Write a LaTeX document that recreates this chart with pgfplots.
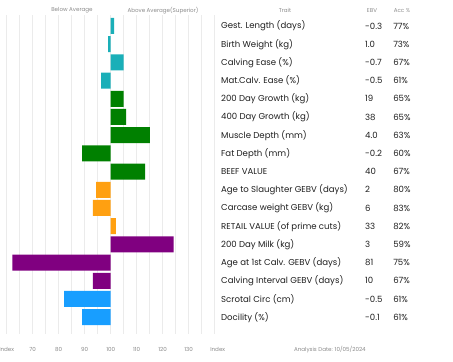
\documentclass[border=0pt]{standalone}
\usepackage{fontspec}
\setmainfont{Poppins}
\usepackage{pgfplots}
\pgfplotsset{compat=1.18}
\definecolor{cteal}{HTML}{1AAFB8}
\definecolor{cgreen}{HTML}{008000}
\definecolor{corange}{HTML}{FFA011}
\definecolor{cpurple}{HTML}{800080}
\definecolor{cblue}{HTML}{189EFF}
\definecolor{gridc}{HTML}{EBEBEB}
\definecolor{tickc}{HTML}{8A8A8A}
\definecolor{txtc}{HTML}{1E1E1E}
\newcommand{\tfont}{\fontsize{8.6}{9}\selectfont}
\newcommand{\sfont}{\fontsize{5.6}{6}\selectfont}
\begin{document}
\begin{tikzpicture}
\begin{axis}[
  scale only axis, width=208bp, height=318.9bp,
  xmin=60, xmax=140, ymin=0.396, ymax=17.92, y dir=reverse,
  x coord trafo/.code={\pgfmathparse{#1-100}},
  x coord inv trafo/.code={\pgfmathparse{#1+100}},
  xbar, bar width=16bp, bar shift=0pt,
  xtick={60,70,80,90,100,110,120,130,140},
  xticklabels={Index,70,80,90,100,110,120,130,\hspace*{6bp}Index},
  minor xtick={65,75,85,95,105,115,125,135},
  xmajorgrids, xminorgrids,
  major grid style={draw=gridc, line width=0.7bp},
  minor grid style={draw=gridc, line width=0.7bp},
  ytick=\empty,
  axis line style={draw=none}, tick style={draw=none},
  xticklabel style={font=\sfont, text=tickc, anchor=base, yshift=-17.5bp},
  /pgf/number format/assume math mode=true,
  clip=false,
]
\addplot[fill=cteal, draw=none] coordinates {(101.3,1) (99,2) (105,3) (96.3,4)};
\addplot[fill=cgreen, draw=none] coordinates {(105,5) (105.9,6) (115.1,7) (89,8) (113.2,9)};
\addplot[fill=corange, draw=none] coordinates {(94.4,10) (93.1,11) (102,12)};
\addplot[fill=cpurple, draw=none] coordinates {(124.2,13) (62.2,14) (93.1,15)};
\addplot[fill=cblue, draw=none] coordinates {(82.1,16) (89,17)};

% headers
\node[font=\sfont, text=tickc] at (axis cs:85.1,0.148) {Below Average};
\node[font=\sfont, text=tickc] at (axis cs:120.1,0.148) {Above Average(Superior)};
\node[font=\sfont, text=tickc] at (axis cs:167,0.148) {Trait};
\node[font=\sfont, text=tickc] at (axis cs:200.5,0.148) {EBV};
\node[font=\sfont, text=tickc] at (axis cs:212,0.148) {Acc \%};
\node[font=\sfont, text=tickc] at (axis cs:184.3,18.8) {Analysis Date: 10/05/2024};

% table
\begin{scope}[every node/.style={font=\tfont, text=txtc, anchor=west, inner sep=0pt}]
\node at (axis cs:142.4,1) {Gest. Length (days)};
\node at (axis cs:197.8,1) {-0.3}; \node at (axis cs:208.6,1) {77\%};
\node at (axis cs:142.4,2) {Birth Weight (kg)};
\node at (axis cs:197.8,2) {1.0}; \node at (axis cs:208.6,2) {73\%};
\node at (axis cs:142.4,3) {Calving Ease (\%)};
\node at (axis cs:197.8,3) {-0.7}; \node at (axis cs:208.6,3) {67\%};
\node at (axis cs:142.4,4) {Mat.Calv. Ease (\%)};
\node at (axis cs:197.8,4) {-0.5}; \node at (axis cs:208.6,4) {61\%};
\node at (axis cs:142.4,5) {200 Day Growth (kg)};
\node at (axis cs:197.8,5) {19}; \node at (axis cs:208.6,5) {65\%};
\node at (axis cs:142.4,6) {400 Day Growth (kg)};
\node at (axis cs:197.8,6) {38}; \node at (axis cs:208.6,6) {65\%};
\node at (axis cs:142.4,7) {Muscle Depth (mm)};
\node at (axis cs:197.8,7) {4.0}; \node at (axis cs:208.6,7) {63\%};
\node at (axis cs:142.4,8) {Fat Depth (mm)};
\node at (axis cs:197.8,8) {-0.2}; \node at (axis cs:208.6,8) {60\%};
\node at (axis cs:142.4,9) {BEEF VALUE};
\node at (axis cs:197.8,9) {40}; \node at (axis cs:208.6,9) {67\%};
\node at (axis cs:142.4,10) {Age to Slaughter GEBV (days)};
\node at (axis cs:197.8,10) {2}; \node at (axis cs:208.6,10) {80\%};
\node at (axis cs:142.4,11) {Carcase weight GEBV (kg)};
\node at (axis cs:197.8,11) {6}; \node at (axis cs:208.6,11) {83\%};
\node at (axis cs:142.4,12) {RETAIL VALUE (of prime cuts)};
\node at (axis cs:197.8,12) {33}; \node at (axis cs:208.6,12) {82\%};
\node at (axis cs:142.4,13) {200 Day Milk (kg)};
\node at (axis cs:197.8,13) {3}; \node at (axis cs:208.6,13) {59\%};
\node at (axis cs:142.4,14) {Age at 1st Calv. GEBV (days)};
\node at (axis cs:197.8,14) {81}; \node at (axis cs:208.6,14) {75\%};
\node at (axis cs:142.4,15) {Calving Interval GEBV (days)};
\node at (axis cs:197.8,15) {10}; \node at (axis cs:208.6,15) {67\%};
\node at (axis cs:142.4,16) {Scrotal Circ (cm)};
\node at (axis cs:197.8,16) {-0.5}; \node at (axis cs:208.6,16) {61\%};
\node at (axis cs:142.4,17) {Docility (\%)};
\node at (axis cs:197.8,17) {-0.1}; \node at (axis cs:208.6,17) {61\%};
\end{scope}

\coordinate (bbll) at (axis cs:57.42,19.46);
\coordinate (bbur) at (axis cs:231.65,-0.4286);
\end{axis}
\pgfresetboundingbox
\path (bbll) rectangle (bbur);
\end{tikzpicture}
\end{document}
